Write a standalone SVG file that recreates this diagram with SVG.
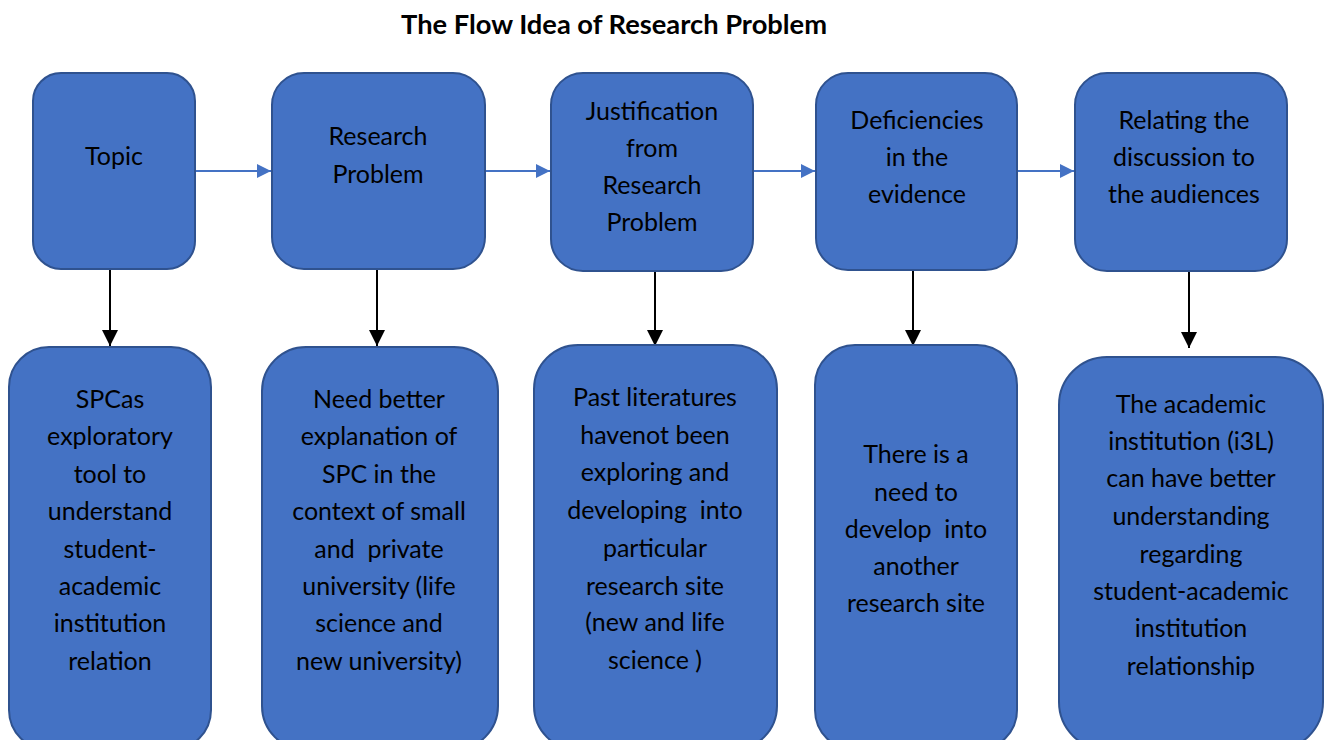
<svg xmlns="http://www.w3.org/2000/svg" width="1327" height="740" viewBox="0 0 1327 740">
  <style>
    .box { fill: #4472C4; stroke: #2F528F; stroke-width: 2; }
    .lbl { font-family: Lato, "Liberation Sans", sans-serif; font-size: 25px; fill: #000; text-anchor: middle; }
    .title { font-family: Lato, "Liberation Sans", sans-serif; font-size: 26px; font-weight: bold; fill: #000; text-anchor: middle; }
    .flow { stroke: #4472C4; stroke-width: 2; fill: none; }
    .down { stroke: #000; stroke-width: 2; fill: none; }
  </style>
  <defs>
    <marker id="headBlue" markerWidth="14" markerHeight="14" refX="14" refY="7" orient="auto" markerUnits="userSpaceOnUse">
      <path d="M0,0 L14,7 L0,14 Z" fill="#4472C4"/>
    </marker>
    <marker id="headBlack" markerWidth="16" markerHeight="16" refX="16" refY="8" orient="auto" markerUnits="userSpaceOnUse">
      <path d="M0,0 L16,8 L0,16 Z" fill="#000"/>
    </marker>
  </defs>

  <rect width="1327" height="740" fill="#fff"/>

  <text class="title" x="614" y="34" textLength="426" lengthAdjust="spacingAndGlyphs">The Flow Idea of Research Problem</text>

  <!-- connectors -->
  <g id="connectors">
    <line class="flow" x1="195" y1="171" x2="271" y2="171" marker-end="url(#headBlue)"/>
    <line class="flow" x1="485" y1="171" x2="550" y2="171" marker-end="url(#headBlue)"/>
    <line class="flow" x1="753" y1="171" x2="815" y2="171" marker-end="url(#headBlue)"/>
    <line class="flow" x1="1017" y1="171" x2="1074" y2="171" marker-end="url(#headBlue)"/>

    <line class="down" x1="110" y1="269" x2="110" y2="346" marker-end="url(#headBlack)"/>
    <line class="down" x1="377" y1="269" x2="377" y2="346" marker-end="url(#headBlack)"/>
    <line class="down" x1="655" y1="271" x2="655" y2="346" marker-end="url(#headBlack)"/>
    <line class="down" x1="913" y1="270" x2="913" y2="346" marker-end="url(#headBlack)"/>
    <line class="down" x1="1189" y1="271" x2="1189" y2="348" marker-end="url(#headBlack)"/>
  </g>

  <!-- top row -->
  <g id="topic">
    <rect class="box" x="33" y="73" width="162" height="196" rx="28"/>
    <text class="lbl" x="114" y="165">Topic</text>
  </g>
  <g id="research-problem">
    <rect class="box" x="272" y="73" width="213" height="196" rx="32"/>
    <text class="lbl" x="378" y="145">Research</text>
    <text class="lbl" x="378" y="183">Problem</text>
  </g>
  <g id="justification">
    <rect class="box" x="551" y="73" width="202" height="198" rx="32"/>
    <text class="lbl" x="652" y="120">Justification</text>
    <text class="lbl" x="652" y="157">from</text>
    <text class="lbl" x="652" y="194">Research</text>
    <text class="lbl" x="652" y="231">Problem</text>
  </g>
  <g id="deficiencies">
    <rect class="box" x="816" y="73" width="201" height="197" rx="32"/>
    <text class="lbl" x="917" y="129">Deficiencies</text>
    <text class="lbl" x="917" y="166">in the</text>
    <text class="lbl" x="917" y="203">evidence</text>
  </g>
  <g id="relating">
    <rect class="box" x="1075" y="73" width="212" height="198" rx="32"/>
    <text class="lbl" x="1184" y="129">Relating the</text>
    <text class="lbl" x="1184" y="166">discussion to</text>
    <text class="lbl" x="1184" y="203">the audiences</text>
  </g>

  <!-- bottom row -->
  <g id="spc-tool">
    <rect class="box" x="9" y="347" width="202" height="403" rx="40"/>
    <text class="lbl" x="110" y="408">SPCas</text>
    <text class="lbl" x="110" y="445">exploratory</text>
    <text class="lbl" x="110" y="483">tool to</text>
    <text class="lbl" x="110" y="520">understand</text>
    <text class="lbl" x="110" y="558">student-</text>
    <text class="lbl" x="110" y="595">academic</text>
    <text class="lbl" x="110" y="632">institution</text>
    <text class="lbl" x="110" y="670">relation</text>
  </g>
  <g id="need-explanation">
    <rect class="box" x="262" y="347" width="236" height="403" rx="44"/>
    <text class="lbl" x="379" y="408">Need better</text>
    <text class="lbl" x="379" y="445">explanation of</text>
    <text class="lbl" x="379" y="483">SPC in the</text>
    <text class="lbl" x="379" y="520">context of small</text>
    <text class="lbl" x="379" y="558" xml:space="preserve">and  private</text>
    <text class="lbl" x="379" y="595">university (life</text>
    <text class="lbl" x="379" y="632">science and</text>
    <text class="lbl" x="379" y="670">new university)</text>
  </g>
  <g id="past-literatures">
    <rect class="box" x="534" y="345" width="243" height="405" rx="44"/>
    <text class="lbl" x="655" y="406">Past literatures</text>
    <text class="lbl" x="655" y="444">havenot been</text>
    <text class="lbl" x="655" y="481">exploring and</text>
    <text class="lbl" x="655" y="519" xml:space="preserve">developing  into</text>
    <text class="lbl" x="655" y="557">particular</text>
    <text class="lbl" x="655" y="595">research site</text>
    <text class="lbl" x="655" y="631">(new and life</text>
    <text class="lbl" x="655" y="669">science )</text>
  </g>
  <g id="need-develop">
    <rect class="box" x="815" y="345" width="202" height="405" rx="40"/>
    <text class="lbl" x="916" y="463">There is a</text>
    <text class="lbl" x="916" y="501">need to</text>
    <text class="lbl" x="916" y="538" xml:space="preserve">develop  into</text>
    <text class="lbl" x="916" y="575">another</text>
    <text class="lbl" x="916" y="612">research site</text>
  </g>
  <g id="institution-understanding">
    <rect class="box" x="1059" y="357" width="264" height="393" rx="48"/>
    <text class="lbl" x="1191" y="413">The academic</text>
    <text class="lbl" x="1191" y="450">institution (i3L)</text>
    <text class="lbl" x="1191" y="487">can have better</text>
    <text class="lbl" x="1191" y="525">understanding</text>
    <text class="lbl" x="1191" y="563">regarding</text>
    <text class="lbl" x="1191" y="600">student-academic</text>
    <text class="lbl" x="1191" y="637">institution</text>
    <text class="lbl" x="1191" y="675">relationship</text>
  </g>
</svg>
